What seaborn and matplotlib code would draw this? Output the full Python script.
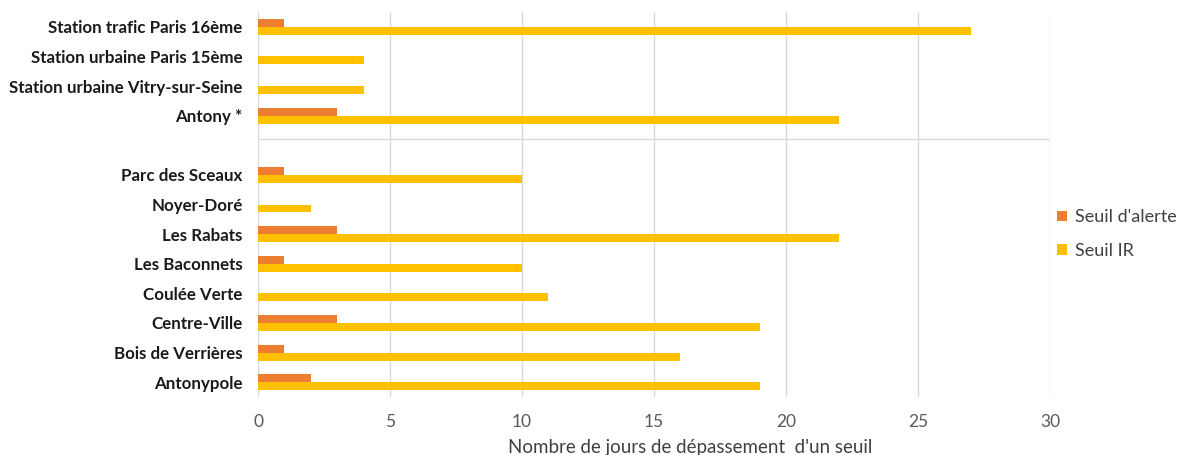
import matplotlib
matplotlib.use("Agg")
import matplotlib.pyplot as plt
import seaborn as sns
import pandas as pd

# Stations, listed top to bottom; the blank entry opens a gap between the two groups
stations = [
    "Station trafic Paris 16ème",
    "Station urbaine Paris 15ème",
    "Station urbaine Vitry-sur-Seine",
    "Antony *",
    " ",
    "Parc des Sceaux",
    "Noyer-Doré",
    "Les Rabats",
    "Les Baconnets",
    "Coulée Verte",
    "Centre-Ville",
    "Bois de Verrières",
    "Antonypole",
]
# Days above each threshold (None for the spacer row)
seuil_alerte = [1, 0, 0, 3, None, 1, 0, 3, 1, 0, 3, 1, 2]
seuil_ir = [27, 4, 4, 22, None, 10, 2, 22, 10, 11, 19, 16, 19]
series = ["Seuil d'alerte", "Seuil IR"]
palette = ["#ED7D31", "#FFC000"]
x_ticks = [0, 5, 10, 15, 20, 25, 30]

rows = []
for name, a, ir in zip(stations, seuil_alerte, seuil_ir):
    if a is not None:
        rows.append({"station": name, "seuil": series[0], "jours": a})
    if ir is not None:
        rows.append({"station": name, "seuil": series[1], "jours": ir})
df = pd.DataFrame(rows)

sns.set_style("white")
plt.rcParams["font.family"] = ["Lato", "DejaVu Sans"]

fig = plt.figure(figsize=(11.84, 4.55), dpi=100)
ax = fig.add_axes([258 / 1184, 1 - 397 / 455, 792 / 1184, 385 / 455])

sns.barplot(
    data=df, y="station", x="jours", hue="seuil",
    order=stations, hue_order=series, palette=palette,
    orient="h", width=0.54, saturation=1, ax=ax, errorbar=None,
    linewidth=0, legend=True,
)

ax.set_xlim(0, 30)
ax.set_ylim(len(stations) - 0.5, -0.5)
ax.set_xticks(x_ticks)
ax.set_xticklabels([str(t) for t in x_ticks], fontsize=12.5, color="#595959")
ax.tick_params(axis="x", length=0, pad=12)
ax.tick_params(axis="y", length=0, pad=11)
for lbl in ax.get_yticklabels():
    lbl.set_fontweight("bold")
    lbl.set_fontsize(12.2)
    lbl.set_color("#1a1a1a")

ax.set_xlabel("")
ax.set_ylabel("")
ax.xaxis.grid(True, color="#D9D9D9", linewidth=1)
ax.yaxis.grid(False)
ax.set_axisbelow(True)
for s in ax.spines.values():
    s.set_visible(False)

# Separator between the reference stations and the local sites
ax.axhline(3.8, color="#D9D9D9", linewidth=1, zorder=0)

handles, labels = ax.get_legend_handles_labels()
ax.legend(
    handles, labels, loc="center left",
    bbox_to_anchor=(1057 / 1184, 1 - 234 / 455), bbox_transform=fig.transFigure,
    frameon=False, fontsize=13, handlelength=0.55, handleheight=0.55,
    handletextpad=0.45, labelspacing=0.95, borderaxespad=0, borderpad=0,
    labelcolor="#404040",
)

fig.text(690 / 1184, 1 - 448 / 455, "Nombre de jours de dépassement  d'un seuil",
         ha="center", va="center", fontsize=13.5, color="#404040")

fig.savefig("out.png", dpi=100)
